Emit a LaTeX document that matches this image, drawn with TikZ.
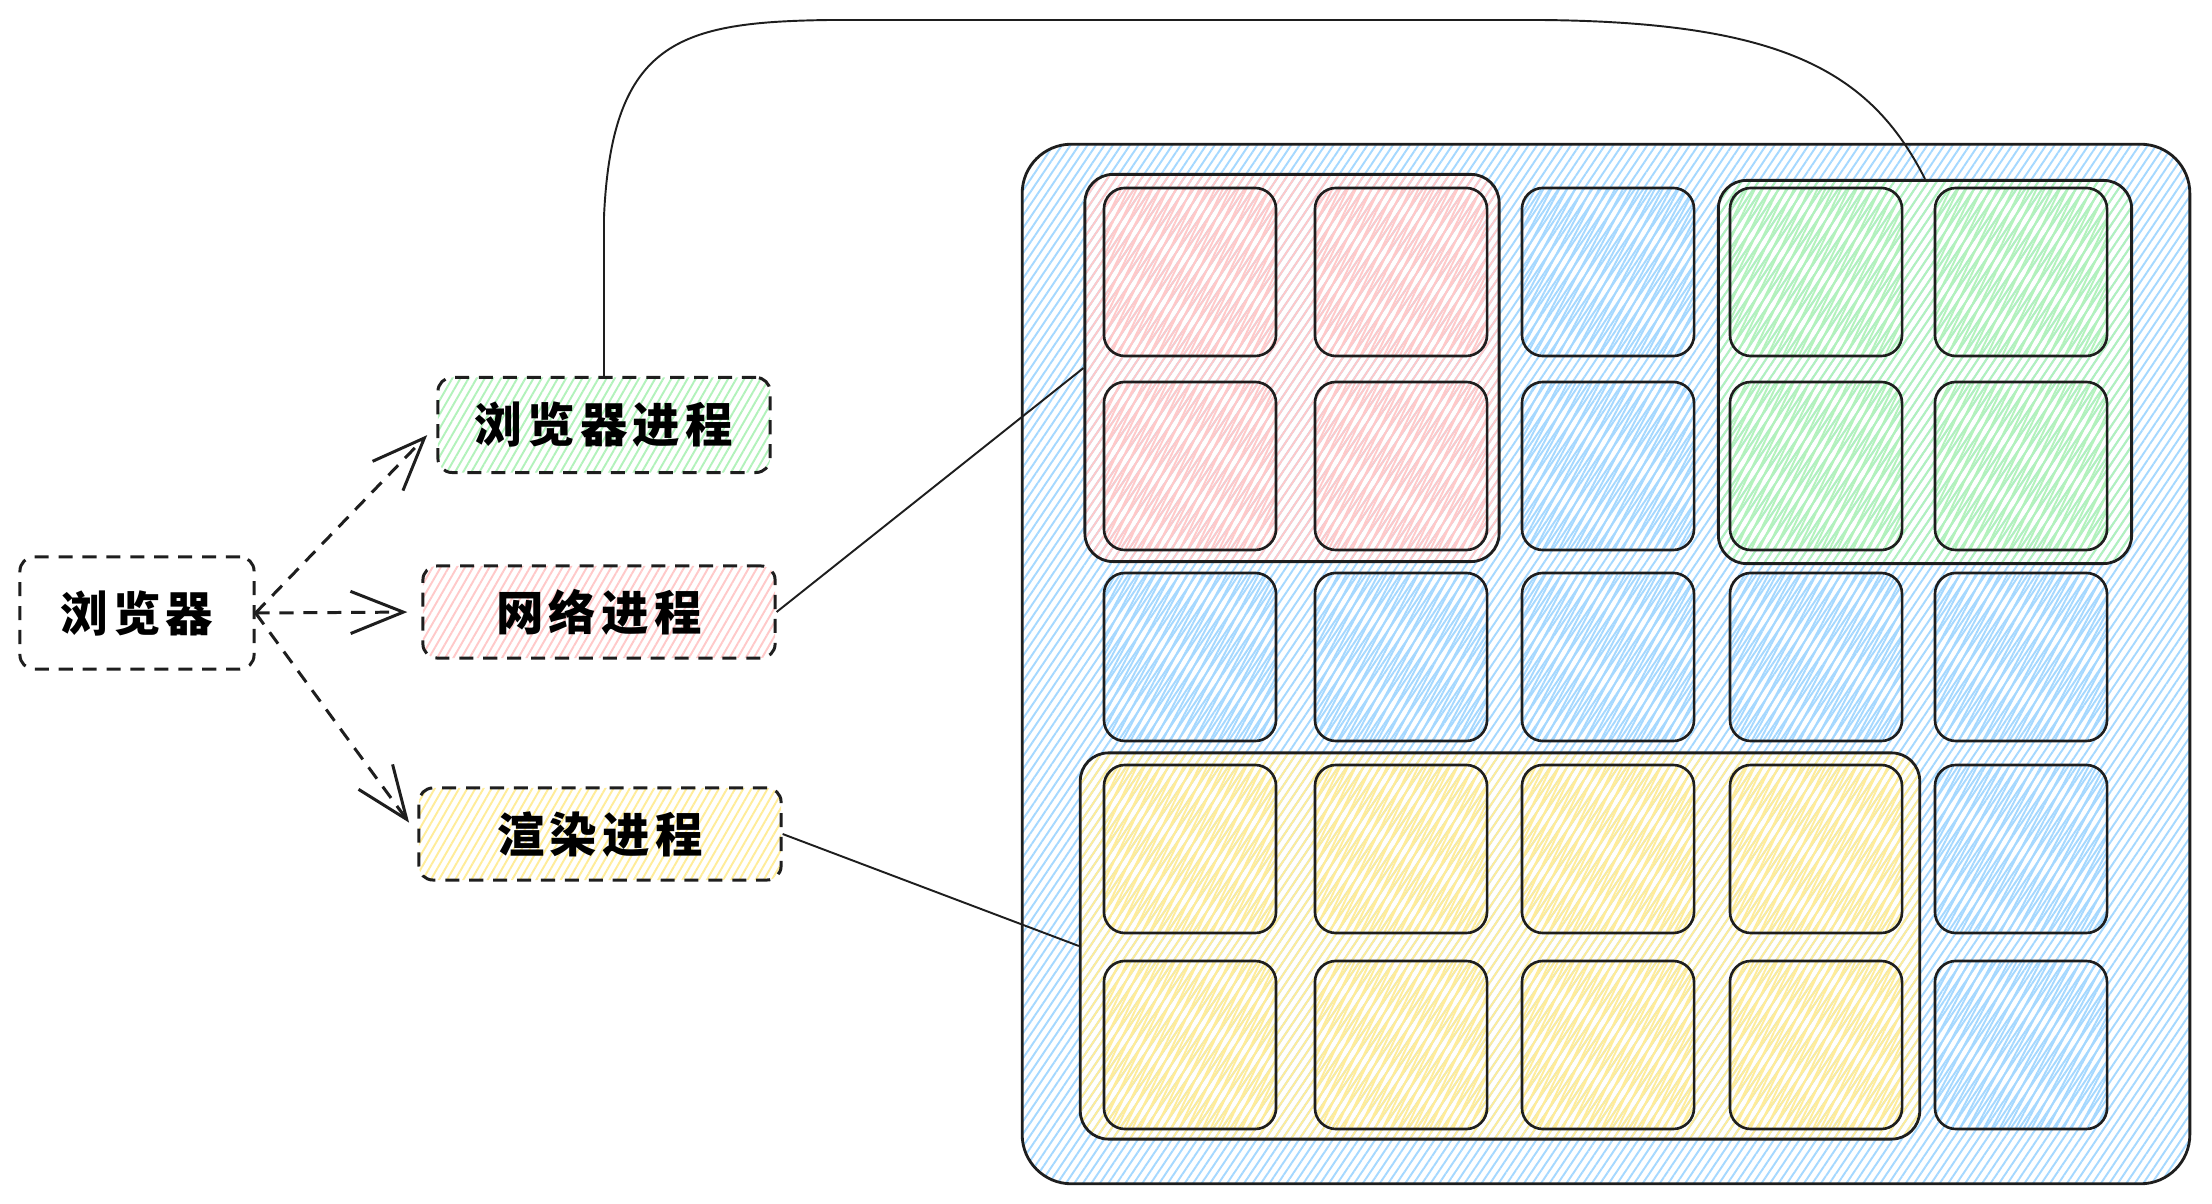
\documentclass[tikz,border=0pt]{standalone}
\usepackage{fontspec}
\newfontfamily\cjk[LetterSpace=11]{Noto Sans CJK SC}
\usepackage{tikz}
\usetikzlibrary{arrows.meta,patterns.meta}
\usepackage{xcolor}
\definecolor{myink}{HTML}{1E1E1E}
\definecolor{myblue}{HTML}{A5D8FF}
\definecolor{myred}{HTML}{FFC9C9}
\definecolor{mygreen}{HTML}{B2F2BB}
\definecolor{myyellow}{HTML}{FFEC99}
\tikzset{
  hatch/.style={pattern={Lines[angle=#1,distance=2pt,line width=0.55pt]}},
  proc/.style={draw=myink,line width=0.85pt,dash pattern=on 4pt off 2.8pt,rounded corners=4pt,
    inner sep=0,font=\cjk\bfseries\fontsize{13.5}{16}\selectfont},
  cell/.style={draw=myink,line width=0.75pt,rounded corners=6pt,inner sep=0,
    minimum width=1.72cm,minimum height=1.68cm},
  cell blue/.style={cell,hatch=62,pattern color=myblue},
  cell red/.style={cell,hatch=64,pattern color=myred},
  cell green/.style={cell,hatch=64,pattern color=mygreen},
  cell yellow/.style={cell,hatch=64,pattern color=myyellow},
  group/.style={draw=myink,line width=0.8pt,rounded corners=8pt,inner sep=0,hatch=56}
}

\begin{document}
\begin{tikzpicture}[x=0.01cm,y=-0.01cm,
	arrow/.style={-{Straight Barb[length=15pt,width=12pt,line width=0.85pt]},myink,line width=0.85pt,
	  dash pattern=on 4pt off 2.8pt,shorten >=4pt},
	link/.style={myink,line width=0.55pt}
]
\useasboundingbox (0,0) rectangle (2212,1204);

% The boxes
\node[proc,minimum width=2.34cm,minimum height=1.12cm] (browser) at (137,613) {浏览器};
\node[proc,minimum width=3.32cm,minimum height=0.95cm,hatch=60,pattern color=mygreen] (bproc) at (604,425) {浏览器进程};
\node[proc,minimum width=3.52cm,minimum height=0.92cm,hatch=60,pattern color=myred] (nproc) at (599,612) {网络进程};
\node[proc,minimum width=3.62cm,minimum height=0.92cm,hatch=60,pattern color=myyellow] (rproc) at (600,834) {渲染进程};

% The screen and its groups
\node[group,rounded corners=14pt,minimum width=11.67cm,minimum height=10.39cm,pattern color=myblue] (screen) at (1606,664) {};
\node[group,minimum width=4.14cm,minimum height=3.87cm,pattern color=myred] (redgrp) at (1292,368) {};
\node[group,minimum width=4.13cm,minimum height=3.83cm,pattern color=mygreen] (greengrp) at (1925,372) {};
\node[group,minimum width=8.39cm,minimum height=3.86cm,pattern color=myyellow] (yellowgrp) at (1500,946) {};

% The cells
\foreach \y [count=\r] in {272,466}{
  \foreach \x [count=\c] in {1190,1401}
    \node[cell red] (red-\r-\c) at (\x,\y) {};
  \foreach \x [count=\c] in {1816,2021}
    \node[cell green] (green-\r-\c) at (\x,\y) {};
  \node[cell blue] (blue-\r-3) at (1608,\y) {};
}
\foreach \x [count=\c] in {1190,1401,1608,1816,2021}
  \node[cell blue] (blue-3-\c) at (\x,657) {};
\foreach \y [count=\r from 4] in {849,1045}{
  \foreach \x [count=\c] in {1190,1401,1608,1816}
    \node[cell yellow] (yellow-\r-\c) at (\x,\y) {};
  \node[cell blue] (blue-\r-5) at (2021,\y) {};
}

% The connections
\draw[arrow] (browser.east) -- (bproc.west);
\draw[arrow] (browser.east) -- (nproc.west);
\draw[arrow] (browser.east) -- (rproc.west);

\coordinate (topL) at (830,20);
\coordinate (topR) at (1540,20);
\draw[link] (bproc.north) -- ++(0,-160) .. controls (612,40) and (680,22) .. (topL) -- (topR)
  .. controls (1780,22) and (1870,70) .. (greengrp.north);
\draw[link] (nproc.east) -- (redgrp.west);
\draw[link] (rproc.east) -- (yellowgrp.west);

\end{tikzpicture}
\end{document}
